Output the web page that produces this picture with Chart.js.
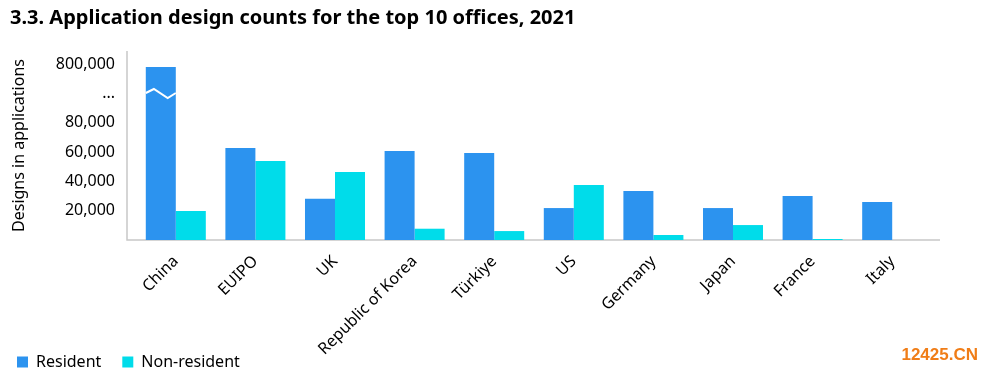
<!DOCTYPE html>
<html>
<head>
<meta charset="utf-8">
<script src="https://cdn.jsdelivr.net/npm/chart.js@4/dist/chart.umd.min.js"></script>
<style>
  html, body { margin: 0; padding: 0; background: #fff; }
  #wrap { position: relative; width: 992px; height: 377px; }
  #mark { position: absolute; right: 14px; bottom: 12px; font: bold 17px "Liberation Sans", sans-serif; color: #f07d17; }
</style>
</head>
<body>
<div id="wrap">
  <canvas id="myChart" width="992" height="377"></canvas>
  <div id="mark">12425.CN</div>
</div>
<script>
// datos
const categories = ['China', 'EUIPO', 'UK', 'Republic of Korea', 'Türkiye', 'US', 'Germany', 'Japan', 'France', 'Italy'];
const resident = [790000, 62800, 28200, 60800, 59400, 21800, 33400, 21800, 30000, 25900];
const nonResident = [19800, 53900, 46400, 7700, 6100, 37500, 3400, 10200, 700, 0];
const tickValues = [20000, 40000, 60000, 80000, 100000, 120000];
const tickLabels = ['20,000', '40,000', '60,000', '80,000', '...', '800,000'];

// eje cortado: de 700k a 800k se dibuja entre 100k y 120k
const BREAK_AT = 100000;
const toAxis = v => v <= BREAK_AT ? v : BREAK_AT + (v - 700000) * 0.2;

const FONT = '"Noto Sans", "Open Sans", sans-serif';
const RES_COLOR = '#2c93ef';
const NONRES_COLOR = '#00dcea';

// zigzag blanco sobre la barra de China, lineas de ejes y ajuste de la leyenda
const breakPlugin = {
  id: 'breakPlugin',
  afterLayout(chart) {
    const lg = chart.legend;
    lg.left -= 14; lg.right -= 14;
    lg.top += 3; lg.bottom += 3;
    // que no se corten las etiquetas largas del eje x
    chart.scales.x.bottom = chart.height;
  },
  beforeDatasetsDraw(chart) {
    const {ctx, chartArea: a} = chart;
    ctx.save();
    ctx.strokeStyle = '#c8c8c8';
    ctx.lineWidth = 1.5;
    ctx.beginPath();
    ctx.moveTo(a.left - 9, a.top);
    ctx.lineTo(a.left - 9, a.bottom);
    ctx.lineTo(a.right + 8, a.bottom);
    ctx.stroke();
    ctx.restore();
  },
  afterDatasetsDraw(chart) {
    const ctx = chart.ctx;
    const bar = chart.getDatasetMeta(0).data[0];
    const y = chart.scales.y.getPixelForValue(BREAK_AT);
    const x0 = bar.x - bar.width / 2, w = bar.width;
    ctx.save();
    ctx.strokeStyle = '#fff';
    ctx.lineWidth = 2;
    ctx.beginPath();
    ctx.moveTo(x0, y - 0.5);
    ctx.lineTo(x0 + 0.27 * w, y - 4.5);
    ctx.lineTo(x0 + 0.73 * w, y + 4.5);
    ctx.lineTo(x0 + w, y - 0.5);
    ctx.stroke();
    ctx.restore();
  }
};

const data = {
  labels: categories,
  datasets: [{
    label: 'Resident',
    data: resident.map(toAxis),
    backgroundColor: RES_COLOR
  }, {
    label: 'Non-resident',
    data: nonResident.map(toAxis),
    backgroundColor: NONRES_COLOR
  }]
};

const config = {
  type: 'bar',
  data: data,
  options: {
    responsive: false,
    animation: false,
    layout: { padding: { left: 10, right: 60, top: 0, bottom: 0 } },
    datasets: {
      bar: { categoryPercentage: 0.754, barPercentage: 1.0 }
    },
    plugins: {
      title: {
        display: true,
        text: '3.3. Application design counts for the top 10 offices, 2021',
        align: 'start',
        color: '#000',
        font: { family: FONT, size: 20, weight: 'bold' },
        padding: { top: 6, bottom: 21 }
      },
      legend: {
        position: 'bottom',
        align: 'start',
        labels: {
          boxWidth: 11,
          boxHeight: 11,
          padding: 21,
          color: '#000',
          font: { family: FONT, size: 16 }
        }
      },
      tooltip: { enabled: false }
    },
    scales: {
      x: {
        grid: { display: false },
        border: { display: false },
        afterFit: s => { s.height = 90; },
        ticks: {
          color: '#000',
          font: { family: FONT, size: 16 },
          minRotation: 45,
          maxRotation: 45,
          padding: 4
        }
      },
      y: {
        min: 0,
        max: 129000,
        grid: { display: false },
        border: { display: false },
        afterBuildTicks: s => { s.ticks = tickValues.map(v => ({ value: v })); },
        afterFit: s => { s.width = 126; },
        ticks: {
          color: '#000',
          padding: 13,
          font: { family: FONT, size: 16 },
          callback: (v, i) => tickLabels[i]
        },
        title: {
          display: true,
          text: 'Designs in applications',
          color: '#000',
          font: { family: FONT, size: 16 },
          padding: { top: 0, bottom: 0 }
        }
      }
    }
  },
  plugins: [breakPlugin]
};

const myChart = new Chart(document.getElementById('myChart').getContext('2d'), config);
</script>
</body>
</html>
